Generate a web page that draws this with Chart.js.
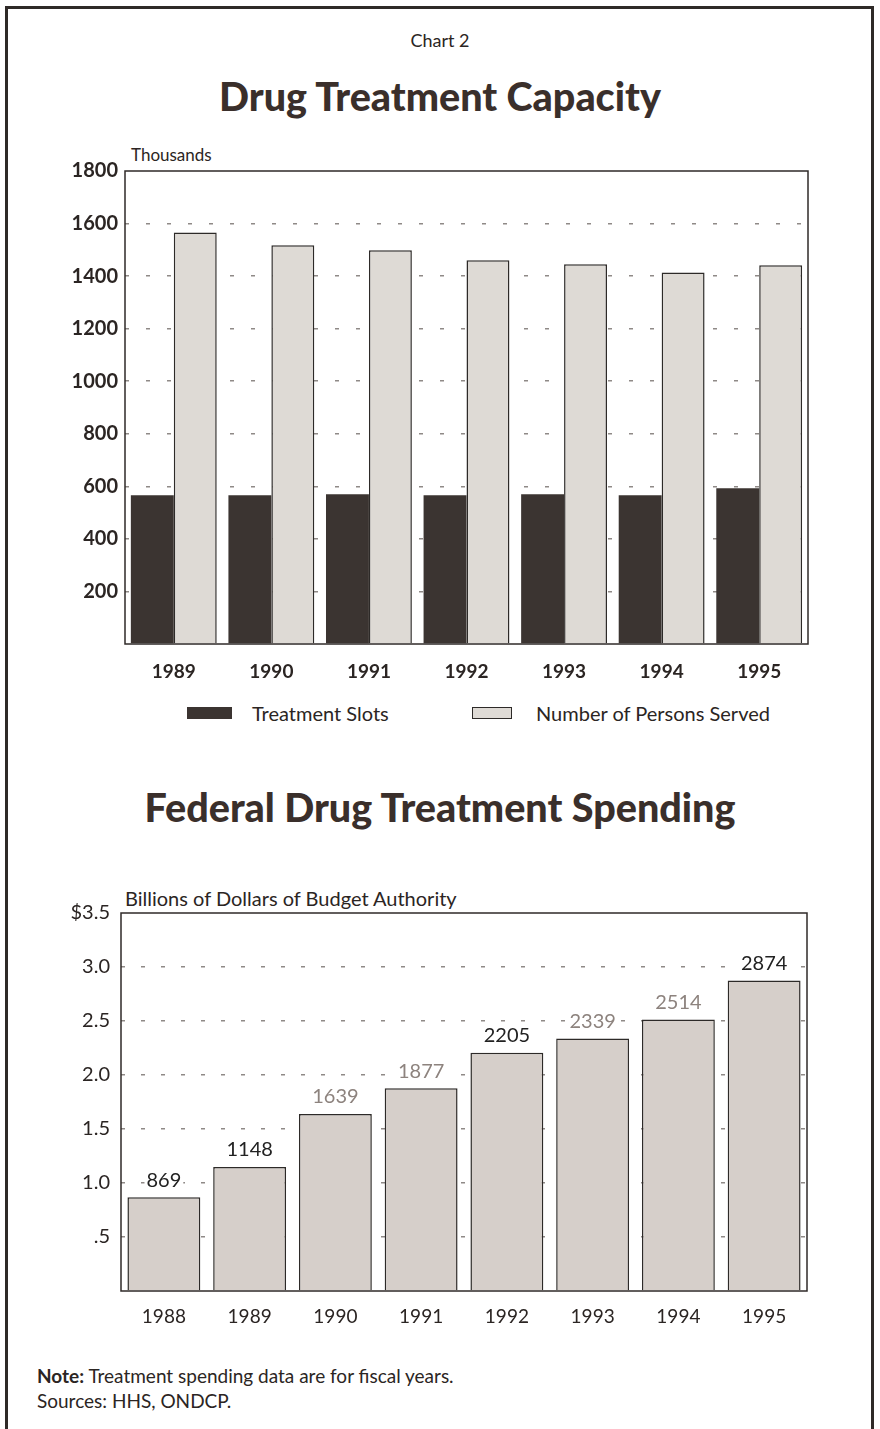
<!DOCTYPE html>
<html lang="en">
<head>
  <meta charset="UTF-8">
  <title>Drug Treatment Capacity / Federal Drug Treatment Spending</title>
  <script src="https://cdn.jsdelivr.net/npm/chart.js"></script>
  <style>
    body { margin: 0; background: #fff; font-family: Lato, "Open Sans", sans-serif; color: #2b2523; }
    #page { position: relative; width: 880px; height: 1429px; overflow: hidden; }
    #frame { position: absolute; left: 5px; top: 6px; width: 869px; height: 1500px; border: 3px solid #2f2a28; box-sizing: border-box; }
    .txt { position: absolute; line-height: 1; white-space: nowrap; }
    .title { left: 0; width: 880px; text-align: center; font-weight: 900; color: #3a2f2b; }
    canvas { position: absolute; left: 0; }
    .leg { position: absolute; display: flex; align-items: center; font-size: 20px; line-height: 1; }
    .sw { display: inline-block; box-sizing: border-box; }
  </style>
</head>
<body>
<div id="page">
  <div id="frame"></div>
  <div class="txt" style="left:0;width:880px;text-align:center;top:31px;font-size:18px;">Chart 2</div>
  <div class="txt title" style="top:76px;font-size:39.5px;">Drug Treatment Capacity</div>
  <div class="txt" style="left:131px;top:146px;font-size:17px;">Thousands</div>
  <div style="position:absolute;left:0;top:140px;width:880px;height:560px;"><canvas id="capacityChart"></canvas></div>

  <div class="txt title" style="top:787px;font-size:39.5px;">Federal Drug Treatment Spending</div>
  <div class="txt" style="left:125px;top:888px;font-size:20px;">Billions of Dollars of Budget Authority</div>
  <div style="position:absolute;left:0;top:880px;width:880px;height:460px;"><canvas id="spendingChart"></canvas></div>

  <div class="txt" style="left:37px;top:1366px;font-size:19px;"><b>Note:</b> Treatment spending data are for fiscal years.</div>
  <div class="txt" style="left:37px;top:1391px;font-size:19px;">Sources: HHS, ONDCP.</div>
</div>

<script>
  // Chart 1: capacity, thousands
  const capacityYears = ['1989', '1990', '1991', '1992', '1993', '1994', '1995'];
  const treatmentSlots = [566, 566, 570, 566, 570, 566, 593];
  const personsServed = [1566, 1517, 1498, 1460, 1445, 1414, 1441];

  // Chart 2: spending, billions of dollars (labels in millions)
  const spendingYears = ['1988', '1989', '1990', '1991', '1992', '1993', '1994', '1995'];
  const spendingMillions = [869, 1148, 1639, 1877, 2205, 2339, 2514, 2874];
  const valueLabelColors = ['#222', '#222', '#8d837e', '#8d837e', '#222', '#8d837e', '#8d837e', '#222'];

  const FONT = 'Lato, "Open Sans", sans-serif';
  const INK = '#2b2523';

  // box around the plot area
  const framePlugin = {
    id: 'frame',
    afterDraw(chart) {
      const a = chart.chartArea, ctx = chart.ctx;
      ctx.save();
      ctx.strokeStyle = '#2f2a28';
      ctx.lineWidth = 1.5;
      ctx.strokeRect(a.left, a.top, a.right - a.left, a.bottom - a.top);
      ctx.restore();
    }
  };

  const valueLabels = {
    id: 'valueLabels',
    afterDatasetsDraw(chart) {
      const ctx = chart.ctx;
      const meta = chart.getDatasetMeta(0);
      ctx.save();
      ctx.font = '20px ' + FONT;
      ctx.textAlign = 'center';
      ctx.textBaseline = 'bottom';
      meta.data.forEach((bar, i) => {
        const txt = String(spendingMillions[i]);
        const w = ctx.measureText(txt).width;
        ctx.fillStyle = '#fff';
        ctx.fillRect(bar.x - w / 2 - 2, bar.y - 28, w + 4, 20);
        ctx.fillStyle = valueLabelColors[i];
        ctx.fillText(txt, bar.x, bar.y - 7);
      });
      ctx.restore();
    }
  };

  const gridColor = (lo, hi) => c => (c.tick && c.tick.value > lo && c.tick.value < hi) ? '#8f8a87' : 'rgba(0,0,0,0)';

  const capacity = new Chart(document.getElementById('capacityChart'), {
    type: 'bar',
    data: {
      labels: capacityYears,
      datasets: [
        {
          label: 'Treatment Slots',
          data: treatmentSlots,
          backgroundColor: '#3b3431',
          borderColor: '#3b3431',
          borderWidth: 0,
          categoryPercentage: 0.88,
          barPercentage: 1.0
        },
        {
          label: 'Number of Persons Served',
          data: personsServed,
          backgroundColor: '#dedad5',
          borderColor: '#2d2a28',
          borderWidth: 1.5,
          categoryPercentage: 0.88,
          barPercentage: 1.0
        }
      ]
    },
    options: {
      responsive: true,
      maintainAspectRatio: false,
      animation: false,
      layout: { padding: { top: 31, right: 72, bottom: 6, left: 0 } },
      plugins: { legend: { display: false }, tooltip: { enabled: false } },
      scales: {
        x: {
          grid: { display: false },
          border: { display: false },
          ticks: { color: INK, padding: 8, font: { family: FONT, size: 19, weight: 'bold' } },
          afterFit(scale) { scale.height = 50; }
        },
        y: {
          min: 0,
          max: 1800,
          grid: { color: gridColor(0, 1800), lineWidth: 1.5, drawTicks: false },
          border: { display: false, dash: [4, 17] },
          ticks: {
            stepSize: 200,
            color: INK,
            padding: 7,
            font: { family: FONT, size: 20, weight: 'bold' },
            callback: v => v === 0 ? '' : v
          },
          afterFit(scale) { scale.width = 125; }
        }
      }
    },
    plugins: [framePlugin]
  });

  // legend built from the chart's own datasets
  const legendX = [187, 472];
  const legendW = [45, 40];
  const legendGap = [20, 24];
  capacity.data.datasets.forEach((ds, i) => {
    const item = document.createElement('div');
    item.className = 'leg';
    item.style.left = legendX[i] + 'px';
    item.style.top = '703px';
    item.style.height = '20px';
    const sw = document.createElement('span');
    sw.className = 'sw';
    sw.style.width = legendW[i] + 'px';
    sw.style.height = '12px';
    sw.style.marginRight = legendGap[i] + 'px';
    sw.style.background = ds.backgroundColor;
    if (ds.borderWidth) sw.style.border = '1.5px solid ' + ds.borderColor;
    item.appendChild(sw);
    item.appendChild(document.createTextNode(ds.label));
    document.getElementById('page').appendChild(item);
  });

  new Chart(document.getElementById('spendingChart'), {
    type: 'bar',
    data: {
      labels: spendingYears,
      datasets: [{
        label: 'Federal Drug Treatment Spending',
        data: spendingMillions.map(v => v / 1000),
        backgroundColor: '#d6cfca',
        borderColor: '#2d2a28',
        borderWidth: 1.5,
        categoryPercentage: 0.85,
        barPercentage: 1.0
      }]
    },
    options: {
      responsive: true,
      maintainAspectRatio: false,
      animation: false,
      layout: { padding: { top: 33, right: 73, bottom: 4, left: 0 } },
      plugins: { legend: { display: false }, tooltip: { enabled: false } },
      scales: {
        x: {
          grid: { display: false },
          border: { display: false },
          ticks: { color: INK, padding: 6, font: { family: FONT, size: 19 } },
          afterFit(scale) { scale.height = 45; }
        },
        y: {
          min: 0,
          max: 3.5,
          grid: { color: gridColor(0, 3.5), lineWidth: 1.5, drawTicks: false },
          border: { display: false, dash: [4, 16] },
          ticks: {
            stepSize: 0.5,
            color: INK,
            padding: 11,
            font: { family: FONT, size: 20 },
            callback: v => {
              if (v === 0) return '';
              if (v === 3.5) return '$3.5';
              if (v === 0.5) return '.5';
              return v.toFixed(1);
            }
          },
          afterFit(scale) { scale.width = 121; }
        }
      }
    },
    plugins: [framePlugin, valueLabels]
  });
</script>
</body>
</html>
